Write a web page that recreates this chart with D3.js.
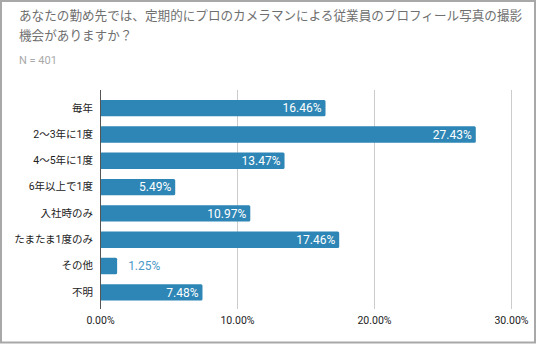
<!DOCTYPE html>
<html><head><meta charset="utf-8">
<script src="https://cdn.jsdelivr.net/npm/d3@7"></script>
<style>
html,body{margin:0;padding:0;background:#fff;}
svg{display:block;font-family:Roboto,"Noto Sans CJK JP",sans-serif;}
</style></head>
<body>
<svg id="c" width="536" height="344"></svg>
<script>
const titleLines = ["あなたの勤め先では、定期的にプロのカメラマンによる従業員のプロフィール写真の撮影", "機会がありますか？"];
const subtitle = "N = 401";
const categories = ["毎年","2〜3年に1度","4〜5年に1度","6年以上で1度","入社時のみ","たまたま1度のみ","その他","不明"];
const values = [16.46, 27.43, 13.47, 5.49, 10.97, 17.46, 1.25, 7.48];
const ticks = [0, 10, 20, 30];

const svg = d3.select("#c");
const W = 536, H = 344;
// frame
svg.append("rect").attr("x",1).attr("y",1).attr("width",W-2).attr("height",H-2.5)
  .attr("fill","#fff").attr("stroke","#a8a8a8").attr("stroke-width",2);

svg.append("text").attr("x",19).attr("y",20).attr("font-size",12.6).attr("fill","#6f6f6f")
  .selectAll("tspan").data(titleLines).join("tspan")
  .attr("x",19).attr("dy",(d,i)=>i?20:0).text(d=>d);
svg.append("text").attr("x",19).attr("y",64).attr("font-size",11).attr("fill","#aaaaaa").text(subtitle);

const x = d3.scaleLinear().domain([0,30]).range([100,511]);
const y = d3.scaleBand().domain(categories).range([95,305.5]).paddingInner(0.38).paddingOuter(0.19);

// grid
svg.append("g").selectAll("line").data(ticks.filter(t=>t>0)).join("line")
  .attr("x1",d=>x(d)).attr("x2",d=>x(d)).attr("y1",90).attr("y2",309)
  .attr("stroke","#cccccc").attr("stroke-width",1).attr("shape-rendering","crispEdges");

// bars
svg.append("g").selectAll("rect").data(values).join("rect")
  .attr("x",x(0)).attr("y",(d,i)=>y(categories[i]))
  .attr("width",d=>x(d)-x(0)).attr("height",y.bandwidth())
  .attr("rx",1.5).attr("fill","#2d86b5");

// axis line
svg.append("line").attr("x1",x(0)).attr("x2",x(0)).attr("y1",90).attr("y2",309)
  .attr("stroke","#555").attr("stroke-width",1).attr("shape-rendering","crispEdges");

// value labels
svg.append("g").selectAll("text").data(values).join("text")
  .attr("font-size",12)
  .attr("y",(d,i)=>y(categories[i])+y.bandwidth()/2)
  .attr("dy","0.36em")
  .attr("x",d=> (x(d)-x(0) > 45) ? x(d)-4 : x(d)+11)
  .attr("text-anchor",d=> (x(d)-x(0) > 45) ? "end" : "start")
  .attr("fill",d=> (x(d)-x(0) > 45) ? "#ffffff" : "#4a98c8")
  .text(d=>d.toFixed(2)+"%");

// category axis labels
const yAxis = d3.axisLeft(y).tickSize(0).tickPadding(7);
const ga = svg.append("g").attr("transform",`translate(${x(0)},0)`).call(yAxis);
ga.select(".domain").remove();
ga.selectAll("text").attr("font-size",10.5).attr("fill","#222").attr("font-family",'Roboto,"Noto Sans CJK JP",sans-serif');

// x axis
const xAxis = d3.axisBottom(x).tickValues(ticks).tickSize(0).tickPadding(0).tickFormat(d=>d.toFixed(2)+"%");
const gx = svg.append("g").attr("transform","translate(0,317)").call(xAxis);
gx.select(".domain").remove();
gx.selectAll("text").attr("font-size",10.5).attr("fill","#222").attr("font-family",'Roboto,"Noto Sans CJK JP",sans-serif');
</script>
</body></html>
